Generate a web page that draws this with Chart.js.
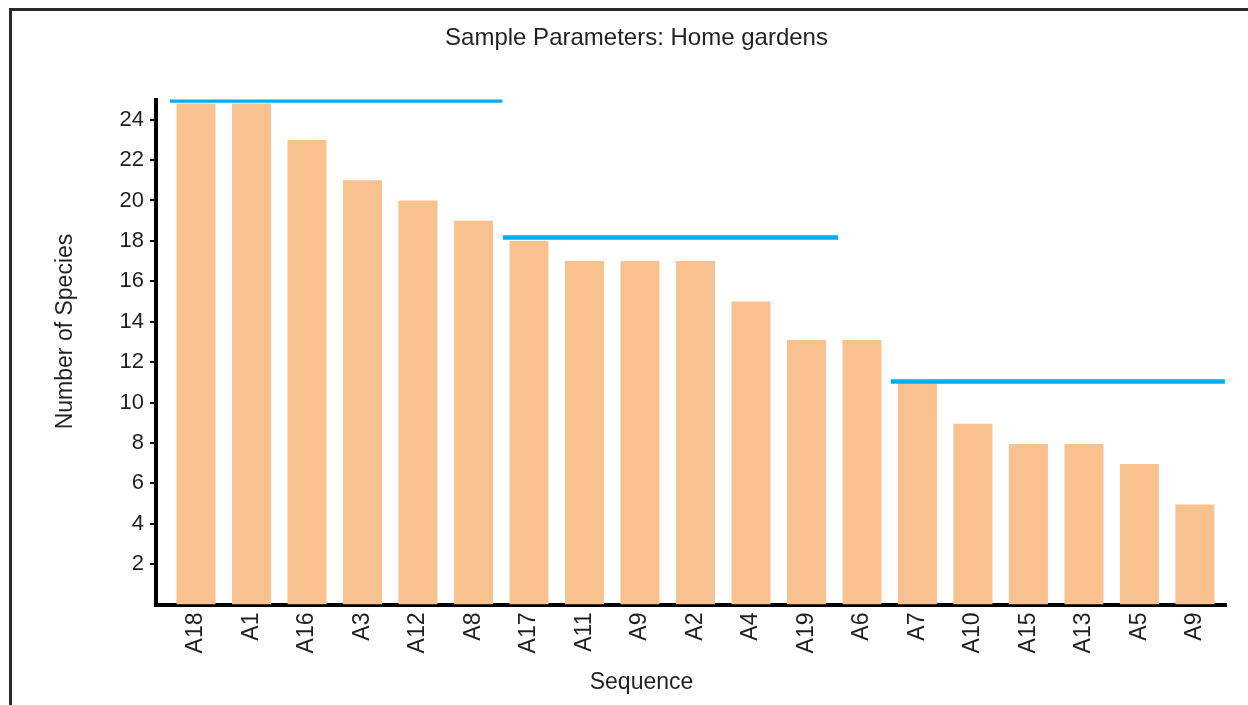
<!DOCTYPE html>
<html>
<head>
<meta charset="utf-8">
<script src="https://cdn.jsdelivr.net/npm/chart.js@4.4.1/dist/chart.umd.min.js"></script>
<style>
  body { margin: 0; background: #fff; }
  #frame { position: absolute; left: 9px; top: 8px; width: 1300px; height: 800px;
           border-top: 3px solid #2a2a2a; border-left: 3px solid #2a2a2a; }
  #chart { position: absolute; left: 0; top: 0; }
</style>
</head>
<body>
<div id="frame"></div>
<canvas id="chart" width="1248" height="705"></canvas>
<script>
// bars, in the order shown
const sequence = ['A18', 'A1', 'A16', 'A3', 'A12', 'A8', 'A17', 'A11', 'A9', 'A2',
  'A4', 'A19', 'A6', 'A7', 'A10', 'A15', 'A13', 'A5', 'A9']
const species = [24.8, 24.8, 23, 21, 20, 19, 18, 17, 17, 17,
  15, 13.1, 13.1, 10.95, 8.95, 7.95, 7.95, 6.95, 4.95]
const yTicks = [2, 4, 6, 8, 10, 12, 14, 16, 18, 20, 22, 24]

// blue group lines: [from, to] in bar positions, and level
const groupSpans = [[-0.47, 5.52], [5.53, 11.57], [12.52, 18.54]]
const groupLevels = [24.95, 18.17, 11.04]

const ink = '#231f20'
const font = 'Liberation Sans, Arial, sans-serif'

const axisTitles = {
  id: 'axisTitles',
  afterDraw(chart) {
    const ctx = chart.ctx
    ctx.save()
    ctx.fillStyle = ink
    ctx.font = '23px ' + font
    ctx.textAlign = 'center'
    ctx.textBaseline = 'middle'
    ctx.fillText('Sequence', 641.5, 683)
    ctx.translate(65.5, 331.5)
    ctx.rotate(-Math.PI / 2)
    ctx.fillText('Number of Species', 0, 0)
    ctx.restore()
  }
}

const lines = groupSpans.map((span, i) => ({
  type: 'line',
  data: span.map(x => ({ x: x, y: groupLevels[i] })),
  borderColor: '#00aeef',
  borderWidth: 4.5,
  borderCapStyle: 'butt',
  pointRadius: 0,
  order: 1
}))

new Chart(document.getElementById('chart'), {
  type: 'bar',
  data: {
    datasets: [{
      data: species.map((v, i) => ({ x: i, y: v })),
      backgroundColor: '#f8c18f',
      barPercentage: 0.703,
      categoryPercentage: 1,
      order: 2
    }, ...lines]
  },
  options: {
    responsive: false,
    animation: false,
    layout: { padding: { left: 47, right: 22, top: 0, bottom: 0 } },
    plugins: {
      legend: { display: false },
      tooltip: { enabled: false },
      title: {
        display: true,
        text: 'Sample Parameters: Home gardens',
        color: ink,
        font: { family: font, size: 24, weight: 'normal' },
        padding: { top: 24, bottom: 46.7 }
      }
    },
    scales: {
      x: {
        type: 'linear',
        offset: false,
        min: -0.721,
        max: 18.56,
        afterBuildTicks: s => { s.ticks = sequence.map((c, i) => ({ value: i })) },
        afterFit: s => { s.height = 100.5 },
        grid: { display: false, drawTicks: false, offset: false },
        border: { display: true, color: '#000', width: 4 },
        ticks: {
          autoSkip: false,
          minRotation: 90,
          maxRotation: 90,
          padding: 8,
          color: ink,
          font: { family: font, size: 23 },
          callback: v => sequence[v]
        }
      },
      y: {
        min: 0,
        max: 25,
        afterBuildTicks: s => { s.ticks = yTicks.map(v => ({ value: v })) },
        afterFit: s => { s.width = 109 },
        grid: { drawOnChartArea: false, drawTicks: true, tickLength: 6, lineWidth: 2, color: '#000' },
        border: { display: true, color: '#000', width: 4 },
        ticks: {
          padding: 6,
          color: ink,
          font: { family: font, size: 22 }
        }
      }
    }
  },
  plugins: [axisTitles]
})
</script>
</body>
</html>
